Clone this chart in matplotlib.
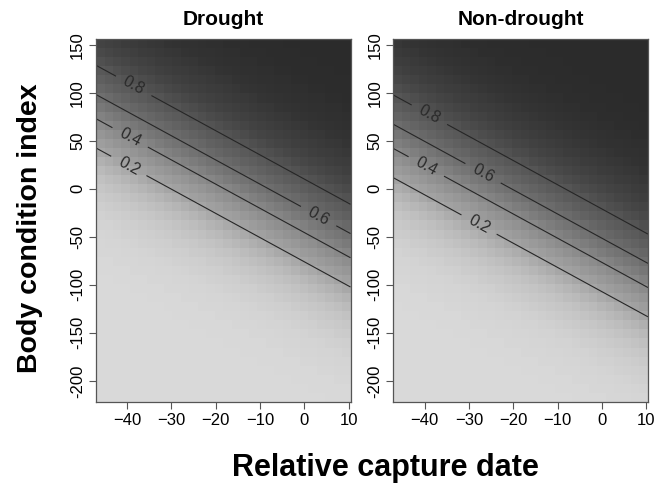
import numpy as np
import matplotlib
matplotlib.use("Agg")
import matplotlib.pyplot as plt
from matplotlib.colors import LinearSegmentedColormap

plt.rcParams['font.family'] = ['Liberation Sans', 'DejaVu Sans']

# fitted logistic surface
panels = ["Drought", "Non-drought"]
intercepts = [1.062, 2.061]
date_slope = 0.0812
bci_slope = 0.0322

levels = [0.2, 0.4, 0.6, 0.8]
# x position of each contour label (same order as levels), per panel
label_x = [[-39.6, -39.3, 3.2, -38.5], [-27.7, -39.6, -26.8, -38.9]]

x_ticks = [-40, -30, -20, -10, 0, 10]
y_ticks = [-200, -150, -100, -50, 0, 50, 100, 150]

# grid of the image cells
xe = np.linspace(-47.0, 10.4, 31)
ye = np.linspace(-222.0, 156.0, 41)
xc = (xe[:-1] + xe[1:]) / 2
yc = (ye[:-1] + ye[1:]) / 2
X, Y = np.meshgrid(xc, yc)

cmap = LinearSegmentedColormap.from_list(
    "g", [(0.0, "#d9d9d9"), (0.05, "#c9c9c9"), (0.2, "#a3a3a3"), (0.5, "#7a7a7a"),
          (0.8, "#565656"), (0.95, "#3a3a3a"), (1.0, "#2b2b2b")])

fig = plt.figure(figsize=(6.65, 4.86), dpi=100)
lefts = [0.1444, 0.5917]

for i, name in enumerate(panels):
    ax = fig.add_axes([lefts[i], 0.1728, 0.3827, 0.747])
    P = 1 / (1 + np.exp(-(intercepts[i] + date_slope * X + bci_slope * Y)))
    ax.pcolormesh(xe, ye, P, cmap=cmap, vmin=0, vmax=1, shading='flat')

    xf = np.linspace(-47.0, 10.4, 200)
    yf = np.linspace(-222.0, 156.0, 300)
    XF, YF = np.meshgrid(xf, yf)
    PF = 1 / (1 + np.exp(-(intercepts[i] + date_slope * XF + bci_slope * YF)))
    cs = ax.contour(XF, YF, PF, levels=levels, colors='#262626', linewidths=0.8)
    pos = []
    for lv, lx in zip(levels, label_x[i]):
        logit = np.log(lv / (1 - lv))
        pos.append((lx, (logit - intercepts[i] - date_slope * lx) / bci_slope))
    labs = ax.clabel(cs, levels=levels, fmt='%.1f', manual=pos, inline=True,
                     inline_spacing=9, fontsize=11.5)
    for t in labs:
        t.set_color('#2a2a2a')

    ax.set_xlim(-47.0, 10.4)
    ax.set_ylim(-222, 156)
    ax.set_xticks(x_ticks)
    ax.set_yticks(y_ticks)
    ax.set_yticklabels([str(v) for v in y_ticks], rotation=90, va='center')
    ax.tick_params(direction='out', length=5, width=0.8, color='#555555',
                   labelsize=12, pad=3)
    for s in ax.spines.values():
        s.set_color('#555555')
        s.set_linewidth(0.9)
    ax.set_title(name, fontsize=15, fontweight='bold', pad=10)

fig.text(0.045, 0.53, "Body condition index", rotation=90, ha='center', va='center',
         fontsize=20.5, fontweight='bold')
fig.text(0.58, 0.037, "Relative capture date", ha='center', va='center',
         fontsize=22, fontweight='bold')

fig.savefig("out.png", dpi=100)
